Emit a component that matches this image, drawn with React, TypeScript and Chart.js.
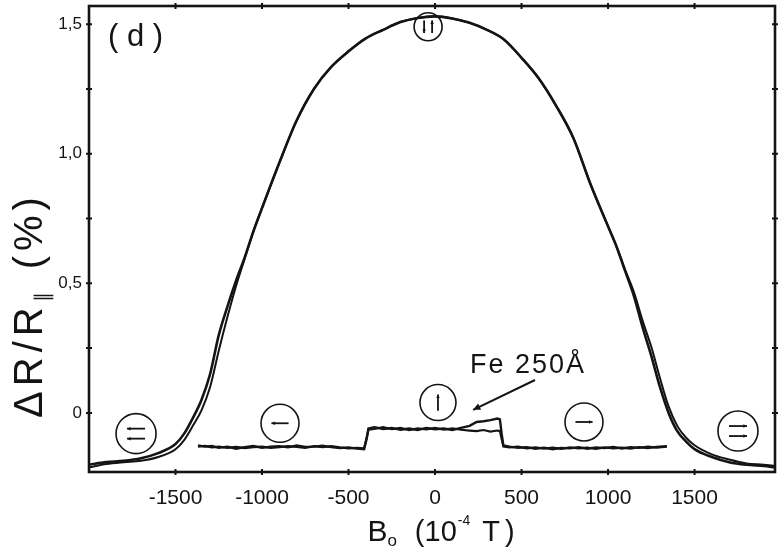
import React, { useEffect, useRef } from 'react';
import { Chart, registerables } from 'chart.js';

Chart.register(...registerables);

// ---- axes ----
const X_MIN = -2000;
const X_MAX = 1965;
const Y_MIN = -0.228;
const Y_MAX = 1.57;
const X_TICKS = [-1500, -1000, -500, 0, 500, 1000, 1500];
const Y_TICKS = [0, 0.25, 0.5, 0.75, 1, 1.25, 1.5];
const Y_LABELED = [0, 0.5, 1, 1.5];

// ---- dome (antiparallel magnetization, two sweep directions) ----
const domeX = [-2000, -1900, -1800, -1700, -1600, -1500, -1450, -1400, -1350, -1300, -1250, -1200, -1150, -1100, -1050, -1000, -900, -800, -700, -600, -500, -400, -300, -200, -100, 0, 100, 200, 300, 400, 500, 600, 700, 800, 900, 1000, 1050, 1100, 1150, 1200, 1250, 1300, 1350, 1400, 1450, 1500, 1600, 1700, 1800, 1900, 1965];
const domeUp = [-0.2, -0.19, -0.185, -0.175, -0.155, -0.12, -0.08, -0.02, 0.05, 0.15, 0.3, 0.41, 0.51, 0.6, 0.7, 0.79, 0.965, 1.128, 1.25, 1.335, 1.395, 1.445, 1.478, 1.508, 1.524, 1.53, 1.522, 1.505, 1.478, 1.44, 1.37, 1.29, 1.185, 1.06, 0.88, 0.72, 0.64, 0.545, 0.45, 0.33, 0.22, 0.1, 0.0, -0.07, -0.11, -0.14, -0.17, -0.19, -0.2, -0.205, -0.21];
const domeDown = [-0.21, -0.197, -0.19, -0.185, -0.17, -0.14, -0.105, -0.05, 0.01, 0.1, 0.24, 0.37, 0.49, 0.595, 0.7, 0.79, 0.965, 1.128, 1.25, 1.335, 1.395, 1.445, 1.478, 1.508, 1.524, 1.53, 1.522, 1.505, 1.478, 1.44, 1.37, 1.29, 1.185, 1.06, 0.88, 0.72, 0.64, 0.55, 0.465, 0.355, 0.255, 0.135, 0.025, -0.05, -0.095, -0.125, -0.16, -0.18, -0.195, -0.2, -0.205];

// ---- low branch (parallel / single layer switching) ----
const lowX = [-1370, -1330, -1290, -1250, -1200, -1150, -1100, -1050, -1000, -950, -900, -850, -800, -750, -700, -650, -600, -550, -500, -450, -410, -395, -385, -350, -300, -250, -200, -150, -100, -50, 0, 50, 100, 150, 200, 240, 280, 320, 360, 375, 385, 395, 430, 480, 530, 580, 630, 680, 730, 780, 830, 880, 930, 980, 1030, 1080, 1130, 1180, 1230, 1280, 1340];
const lowA = [-0.125, -0.13, -0.128, -0.135, -0.13, -0.138, -0.132, -0.128, -0.135, -0.13, -0.128, -0.133, -0.126, -0.131, -0.13, -0.127, -0.132, -0.136, -0.133, -0.138, -0.14, -0.1, -0.06, -0.055, -0.062, -0.058, -0.065, -0.06, -0.066, -0.058, -0.063, -0.06, -0.066, -0.058, -0.05, -0.035, -0.032, -0.028, -0.022, -0.025, -0.08, -0.125, -0.13, -0.135, -0.132, -0.138, -0.134, -0.14, -0.135, -0.137, -0.132, -0.138, -0.133, -0.136, -0.131, -0.137, -0.132, -0.135, -0.13, -0.134, -0.13];
const lowB = [-0.13, -0.127, -0.133, -0.13, -0.135, -0.131, -0.136, -0.132, -0.13, -0.135, -0.132, -0.128, -0.131, -0.135, -0.128, -0.132, -0.128, -0.133, -0.137, -0.135, -0.137, -0.095, -0.065, -0.062, -0.055, -0.063, -0.058, -0.066, -0.06, -0.064, -0.058, -0.065, -0.06, -0.065, -0.068, -0.07, -0.066, -0.072, -0.068, -0.07, -0.1, -0.13, -0.133, -0.13, -0.137, -0.133, -0.138, -0.134, -0.139, -0.133, -0.137, -0.134, -0.139, -0.133, -0.137, -0.134, -0.138, -0.132, -0.136, -0.131, -0.128];

// ---- annotations (data coordinates) ----
type Circ = { x: number; y: number; r: number; kind: string };
const CIRCLES: Circ[] = [
  { x: -40, y: 1.49, r: 14, kind: 'downup' },
  { x: 17, y: 0.04, r: 18, kind: 'up' },
  { x: -896, y: -0.04, r: 19, kind: 'left' },
  { x: -1728, y: -0.08, r: 20, kind: 'left2' },
  { x: 861, y: -0.035, r: 19, kind: 'right' },
  { x: 1751, y: -0.07, r: 20, kind: 'right2' },
];
const PANEL_LABEL = { text: '( d )', x: -1890, y: 1.415 };
const SAMPLE_LABEL = { text: 'Fe 250Å', x: 202, y: 0.154 };
const SAMPLE_ARROW = { x1: 578, y1: 0.127, x2: 220, y2: 0.012 };

const INK = '#141414';
const FONT = '"Liberation Sans", Arial, sans-serif';

function arrow(ctx: CanvasRenderingContext2D, x1: number, y1: number, x2: number, y2: number, head: number) {
  const a = Math.atan2(y2 - y1, x2 - x1);
  ctx.beginPath();
  ctx.moveTo(x1, y1);
  ctx.lineTo(x2, y2);
  ctx.stroke();
  ctx.beginPath();
  ctx.moveTo(x2, y2);
  ctx.lineTo(x2 - head * Math.cos(a - 0.45), y2 - head * Math.sin(a - 0.45));
  ctx.lineTo(x2 - head * Math.cos(a + 0.45), y2 - head * Math.sin(a + 0.45));
  ctx.closePath();
  ctx.fill();
}

const decorPlugin = {
  id: 'decor',
  afterDatasetsDraw(chart: any) {
    const { ctx, chartArea: ca, scales } = chart;
    const xs = scales.x;
    const ys = scales.y;
    ctx.save();
    ctx.strokeStyle = INK;
    ctx.fillStyle = INK;
    // frame
    ctx.lineWidth = 2.6;
    ctx.strokeRect(ca.left, ca.top, ca.right - ca.left, ca.bottom - ca.top);
    ctx.lineWidth = 2;
    for (const v of X_TICKS) {
      const px = xs.getPixelForValue(v);
      ctx.beginPath();
      ctx.moveTo(px, ca.bottom - 3); ctx.lineTo(px, ca.bottom + 3);
      ctx.moveTo(px, ca.top - 3); ctx.lineTo(px, ca.top + 3);
      ctx.stroke();
    }
    for (const v of Y_TICKS) {
      const py = ys.getPixelForValue(v);
      ctx.beginPath();
      ctx.moveTo(ca.left - 3, py); ctx.lineTo(ca.left + 3, py);
      ctx.moveTo(ca.right - 3, py); ctx.lineTo(ca.right + 3, py);
      ctx.stroke();
    }
    // circles with arrows
    for (const c of CIRCLES) {
      const cx = xs.getPixelForValue(c.x);
      const cy = ys.getPixelForValue(c.y);
      ctx.lineWidth = 1.6;
      ctx.beginPath();
      ctx.arc(cx, cy, c.r, 0, Math.PI * 2);
      ctx.stroke();
      const L = c.r * 0.45;
      ctx.lineWidth = 1.8;
      if (c.kind === 'downup') {
        arrow(ctx, cx - 4, cy - L, cx - 4, cy + L, 4);
        arrow(ctx, cx + 4, cy + L, cx + 4, cy - L, 4);
      } else if (c.kind === 'up') {
        arrow(ctx, cx, cy + L, cx, cy - L, 4);
      } else if (c.kind === 'left') {
        arrow(ctx, cx + L, cy, cx - L, cy, 4);
      } else if (c.kind === 'right') {
        arrow(ctx, cx - L, cy, cx + L, cy, 4);
      } else if (c.kind === 'left2') {
        arrow(ctx, cx + L, cy - 5, cx - L, cy - 5, 4);
        arrow(ctx, cx + L, cy + 5, cx - L, cy + 5, 4);
      } else if (c.kind === 'right2') {
        arrow(ctx, cx - L, cy - 5, cx + L, cy - 5, 4);
        arrow(ctx, cx - L, cy + 5, cx + L, cy + 5, 4);
      }
    }
    // sample arrow
    ctx.lineWidth = 2;
    arrow(ctx,
      xs.getPixelForValue(SAMPLE_ARROW.x1), ys.getPixelForValue(SAMPLE_ARROW.y1),
      xs.getPixelForValue(SAMPLE_ARROW.x2), ys.getPixelForValue(SAMPLE_ARROW.y2), 8);
    // texts
    ctx.textBaseline = 'alphabetic';
    ctx.textAlign = 'left';
    ctx.font = `31px ${FONT}`;
    ctx.fillText(PANEL_LABEL.text, xs.getPixelForValue(PANEL_LABEL.x), ys.getPixelForValue(PANEL_LABEL.y));
    ctx.font = `27px ${FONT}`;
    (ctx as any).letterSpacing = '2px';
    ctx.fillText(SAMPLE_LABEL.text, xs.getPixelForValue(SAMPLE_LABEL.x), ys.getPixelForValue(SAMPLE_LABEL.y));
    (ctx as any).letterSpacing = '0px';

    // x axis title: B0 (10^-4 T)
    type Seg = { t: string; size: number; dy: number; gap: number };
    const measure = (segs: Seg[], spacing: number) => {
      let w = 0;
      for (const s of segs) { ctx.font = `${s.size}px ${FONT}`; w += ctx.measureText(s.t).width + s.gap + spacing * s.t.length; }
      return w;
    };
    const xSegs: Seg[] = [
      { t: 'B', size: 30, dy: 0, gap: 0 },
      { t: 'o', size: 17, dy: 5, gap: 18 },
      { t: '(10', size: 29, dy: 0, gap: 1 },
      { t: '-4', size: 14, dy: -16, gap: 12 },
      { t: 'T', size: 29, dy: 0, gap: 5 },
      { t: ')', size: 29, dy: 0, gap: 0 },
    ];
    const xw = measure(xSegs, 0);
    let px = (ca.left + ca.right) / 2 + 9 - xw / 2;
    const base = ca.bottom + 69;
    for (const s of xSegs) {
      ctx.font = `${s.size}px ${FONT}`;
      ctx.fillText(s.t, px, base + s.dy);
      px += ctx.measureText(s.t).width + s.gap;
    }
    // y axis title: ΔR/R∥ (%)
    const ySegs: Seg[] = [
      { t: 'ΔR/R', size: 40, dy: 0, gap: 0 },
      { t: '∥', size: 20, dy: 7, gap: 18 },
      { t: '(%)', size: 40, dy: 0, gap: 0 },
    ];
    const SP = 5;
    const yw = measure(ySegs, SP);
    ctx.translate(ca.left - 47, (ca.top + ca.bottom) / 2 + 66 + yw / 2);
    ctx.rotate(-Math.PI / 2);
    let py = 0;
    (ctx as any).letterSpacing = `${SP}px`;
    for (const s of ySegs) {
      ctx.font = `${s.size}px ${FONT}`;
      ctx.fillText(s.t, py, s.dy);
      py += ctx.measureText(s.t).width + s.gap;
    }
    ctx.restore();
  },
};

export default function App() {
  const ref = useRef<HTMLCanvasElement | null>(null);
  useEffect(() => {
    if (!ref.current) return;
    const mk = (xa: number[], ya: number[]) => xa.map((x, i) => ({ x, y: ya[i] }));
    const chart = new Chart(ref.current, {
      type: 'line',
      data: {
        datasets: [
          { data: mk(domeX, domeUp), borderColor: INK, borderWidth: 2.6, pointRadius: 0, cubicInterpolationMode: 'monotone' },
          { data: mk(domeX, domeDown), borderColor: INK, borderWidth: 2, pointRadius: 0, cubicInterpolationMode: 'monotone' },
          { data: mk(lowX, lowA), borderColor: INK, borderWidth: 2.4, pointRadius: 0, tension: 0 },
          { data: mk(lowX, lowB), borderColor: INK, borderWidth: 2.2, pointRadius: 0, tension: 0 },
        ],
      } as any,
      options: {
        animation: false,
        responsive: false,
        parsing: false as any,
        layout: { padding: { top: 6, right: 4, left: 0, bottom: 0 } },
        plugins: { legend: { display: false }, tooltip: { enabled: false }, title: { display: false } },
        scales: {
          x: {
            type: 'linear',
            min: X_MIN,
            max: X_MAX,
            grid: { display: false, drawTicks: false },
            border: { display: false },
            afterFit: (s: any) => { s.height = 79; s.paddingLeft = 0; s.paddingRight = 0; },
            afterBuildTicks: (s: any) => { s.ticks = X_TICKS.map((v) => ({ value: v })); },
            ticks: {
              padding: 14,
              color: INK,
              font: { family: FONT, size: 21 },
              maxRotation: 0,
              autoSkip: false,
              callback: (v: any) => String(v),
            },
          },
          y: {
            type: 'linear',
            min: Y_MIN,
            max: Y_MAX,
            grid: { display: false, drawTicks: false },
            border: { display: false },
            afterFit: (s: any) => { s.width = 89; s.paddingTop = 0; s.paddingBottom = 0; },
            afterBuildTicks: (s: any) => { s.ticks = Y_TICKS.map((v) => ({ value: v })); },
            ticks: {
              padding: 7,
              color: INK,
              font: { family: FONT, size: 17 },
              autoSkip: false,
              callback: (v: any) => (Y_LABELED.includes(v) ? (v === 0 ? '0' : Number(v).toFixed(1).replace('.', ',')) : ''),
            },
          },
        },
      } as any,
      plugins: [decorPlugin],
    });
    return () => chart.destroy();
  }, []);
  return (
    <div style={{ position: 'fixed', left: 0, top: 0, width: 779, height: 551, background: '#fff' }}>
      <canvas ref={ref} width={779} height={551} style={{ display: 'block' }} />
    </div>
  );
}
